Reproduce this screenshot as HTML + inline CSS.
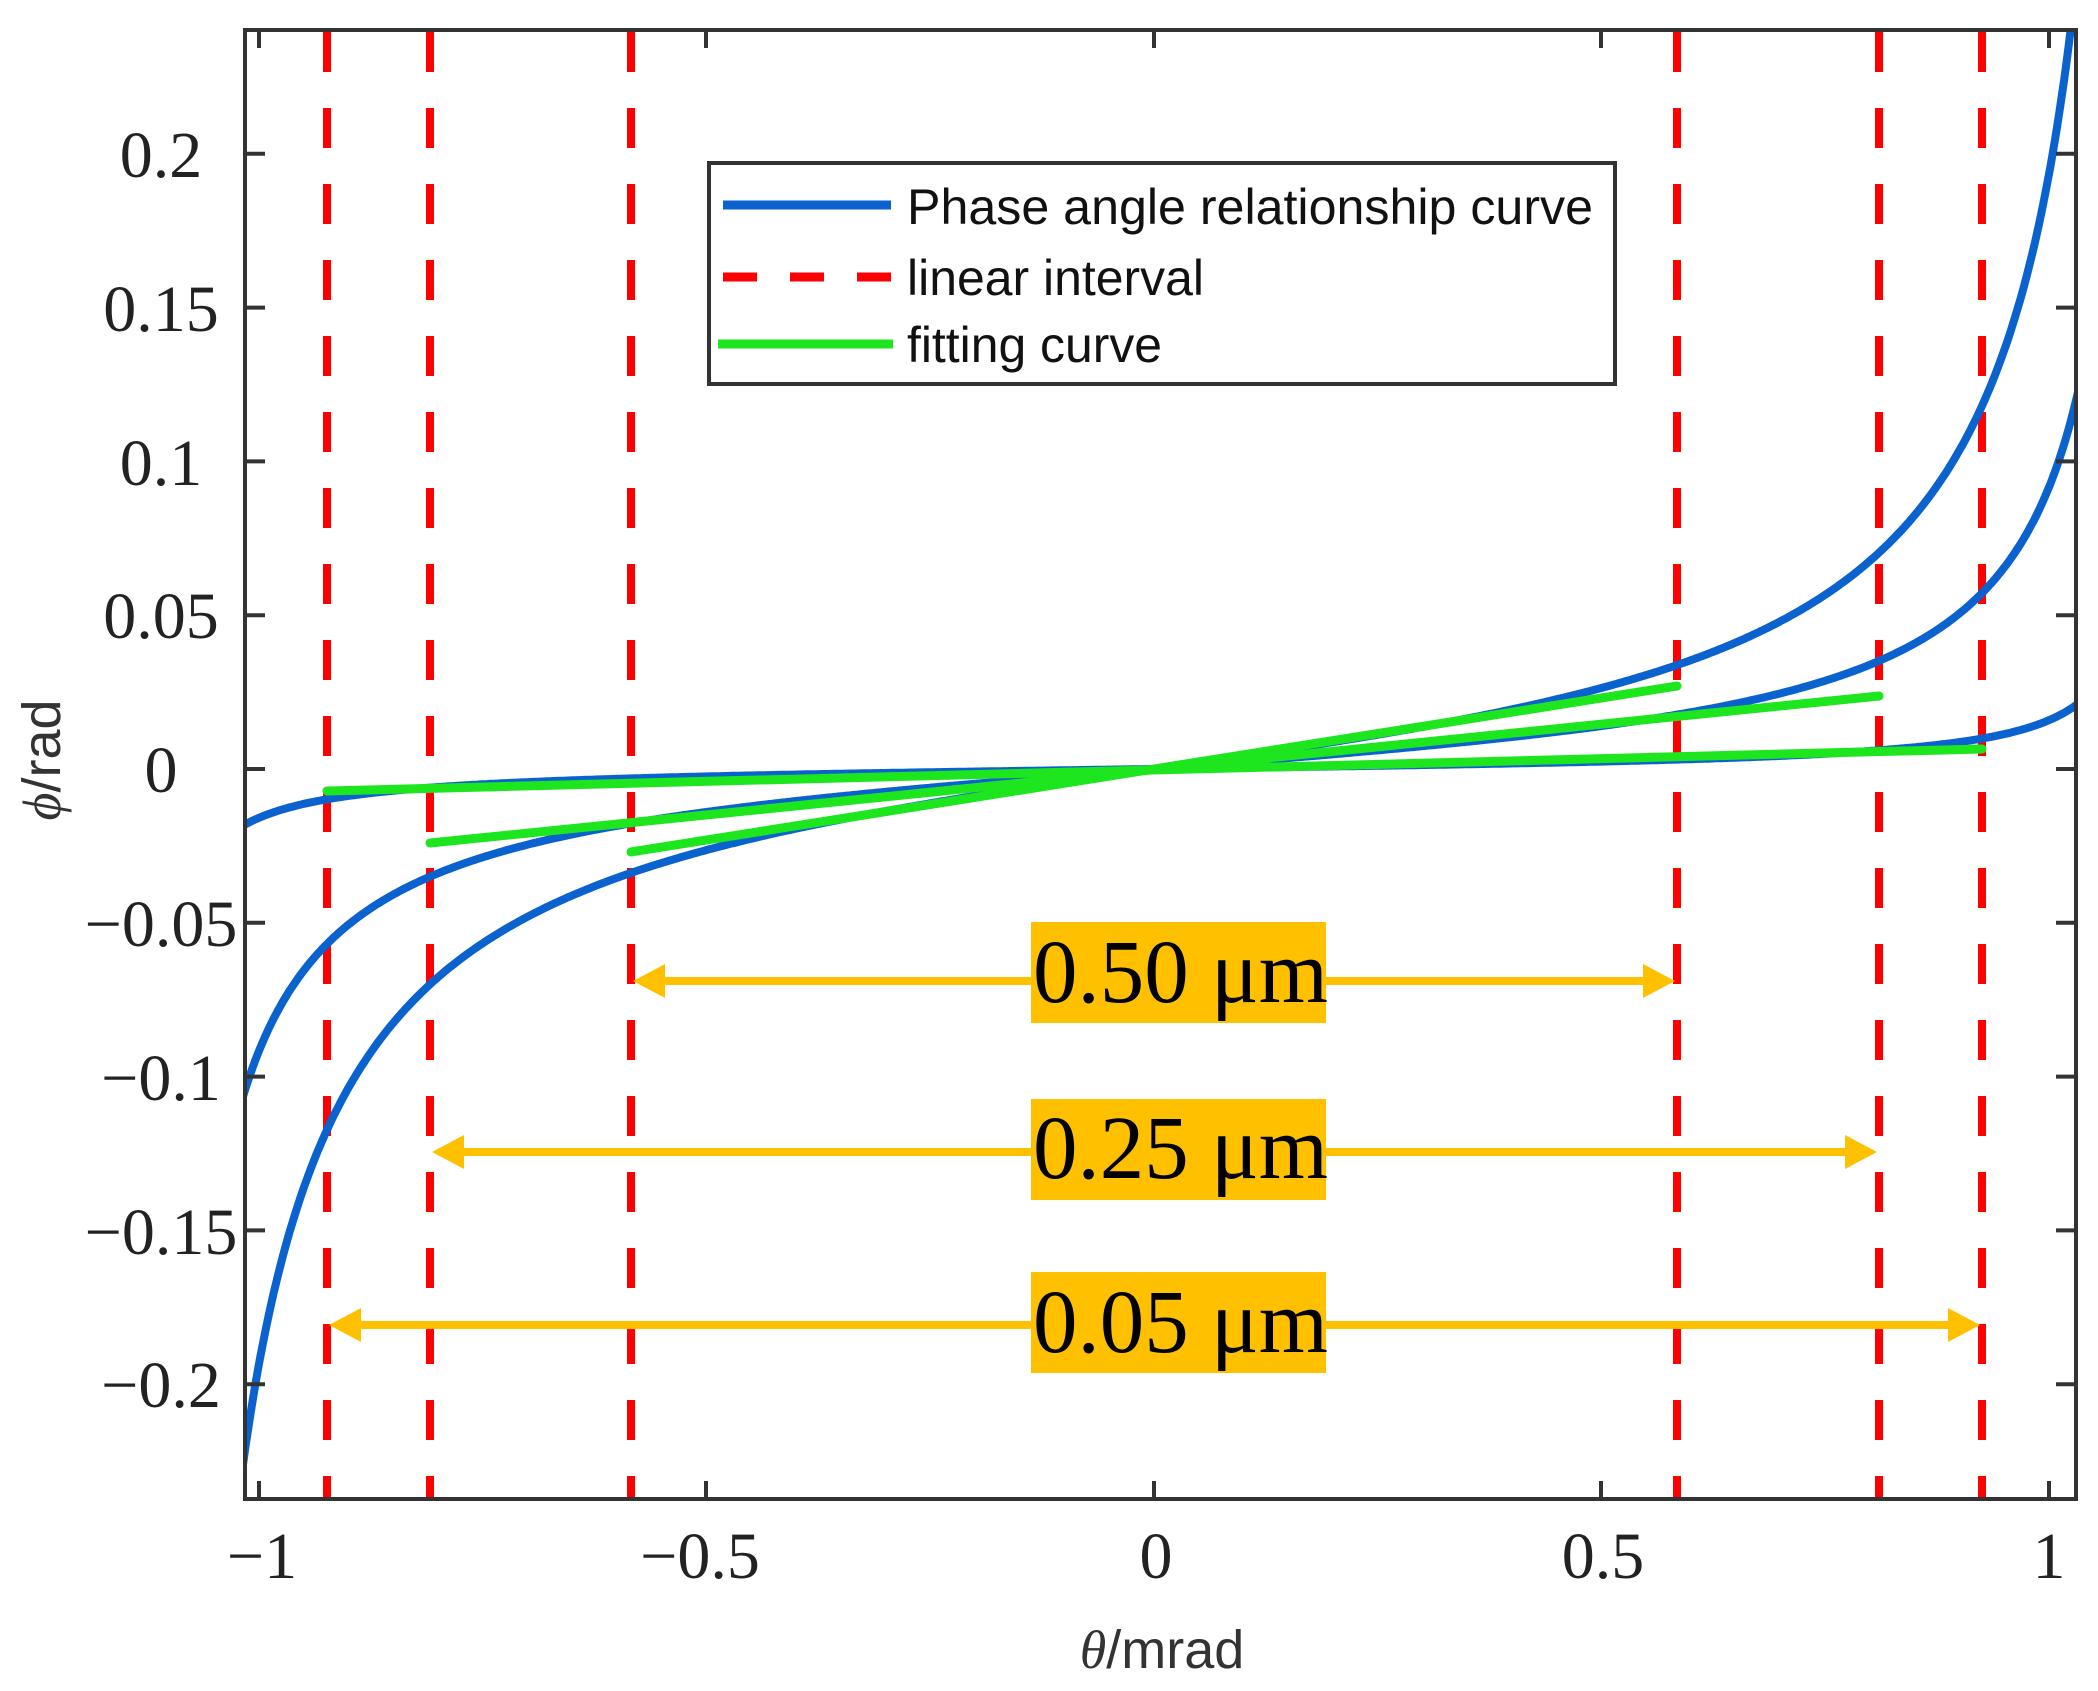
<!DOCTYPE html>
<html><head><meta charset="utf-8"><style>
html,body{margin:0;padding:0;background:#fff;}
svg{display:block;}
</style></head><body>
<svg id="s" width="2098" height="1691" viewBox="0 0 2098 1691" xmlns="http://www.w3.org/2000/svg">
<defs><clipPath id="c"><rect x="245" y="30" width="1831" height="1469"/></clipPath></defs>
<rect width="2098" height="1691" fill="#fff"/>
<g clip-path="url(#c)">
 <g stroke="#ff0000" stroke-width="8" stroke-dasharray="40,36">
  <line x1="327" y1="32" x2="327" y2="1499"/>
  <line x1="430" y1="32" x2="430" y2="1499"/>
  <line x1="631" y1="32" x2="631" y2="1499"/>
  <line x1="1677" y1="32" x2="1677" y2="1499"/>
  <line x1="1879" y1="32" x2="1879" y2="1499"/>
  <line x1="1982" y1="32" x2="1982" y2="1499"/>
 </g>
 <g id="blue" fill="none" stroke="#0a62cf" stroke-width="8"></g>
 <g stroke="#1ee61e" stroke-width="9" stroke-linecap="round">
  <line x1="631" y1="852" x2="1677" y2="686"/>
  <line x1="430" y1="843" x2="1879" y2="696"/>
  <line x1="327" y1="791" x2="1982" y2="749"/>
 </g>
</g>
<g stroke="#333" stroke-width="4" fill="none">
 <rect x="245" y="30" width="1831" height="1469"/>
 <line x1="259" y1="1499" x2="259" y2="1481"/><line x1="706" y1="1499" x2="706" y2="1481"/>
 <line x1="1154" y1="1499" x2="1154" y2="1481"/><line x1="1601" y1="1499" x2="1601" y2="1481"/>
 <line x1="2049" y1="1499" x2="2049" y2="1481"/>
 <line x1="259" y1="30" x2="259" y2="48"/><line x1="706" y1="30" x2="706" y2="48"/>
 <line x1="1154" y1="30" x2="1154" y2="48"/><line x1="1601" y1="30" x2="1601" y2="48"/>
 <line x1="2049" y1="30" x2="2049" y2="48"/>
</g>
<g id="yt" stroke="#333" stroke-width="4"></g>
<g font-family="Liberation Serif, serif" font-size="66" fill="#222" text-anchor="middle">
 <text x="161" y="177">0.2</text>
 <text x="161" y="331">0.15</text>
 <text x="161" y="485">0.1</text>
 <text x="161" y="638">0.05</text>
 <text x="161" y="792">0</text>
 <text x="161" y="946">−0.05</text>
 <text x="161" y="1100">−0.1</text>
 <text x="161" y="1254">−0.15</text>
 <text x="161" y="1407">−0.2</text>
 <text x="262" y="1578">−1</text>
 <text x="700" y="1578">−0.5</text>
 <text x="1156" y="1578">0</text>
 <text x="1603" y="1578">0.5</text>
 <text x="2049" y="1578">1</text>
</g>
<text x="1162" y="1668" font-family="Liberation Sans, sans-serif" font-size="54" fill="#333" text-anchor="middle"><tspan font-family="Liberation Serif, serif" font-style="italic">θ</tspan>/mrad</text>
<text transform="translate(60,760) rotate(-90)" font-family="Liberation Sans, sans-serif" font-size="54" fill="#333" text-anchor="middle"><tspan font-family="Liberation Serif, serif" font-style="italic">ϕ</tspan>/rad</text>
<g fill="#ffc000" stroke="#ffc000">
 <line x1="660" y1="981" x2="1648" y2="981" stroke-width="8"/>
 <polygon points="633,981 665,964 665,998" stroke="none"/>
 <polygon points="1675,981 1643,964 1643,998" stroke="none"/>
 <line x1="459" y1="1152" x2="1850" y2="1152" stroke-width="8"/>
 <polygon points="432,1152 464,1135 464,1169" stroke="none"/>
 <polygon points="1877,1152 1845,1135 1845,1169" stroke="none"/>
 <line x1="356" y1="1325" x2="1953" y2="1325" stroke-width="8"/>
 <polygon points="329,1325 361,1308 361,1342" stroke="none"/>
 <polygon points="1980,1325 1948,1308 1948,1342" stroke="none"/>
 <rect x="1031" y="922" width="295" height="101" stroke="none"/>
 <rect x="1031" y="1099" width="295" height="101" stroke="none"/>
 <rect x="1031" y="1272" width="295" height="101" stroke="none"/>
</g>
<g font-family="Liberation Serif, serif" font-size="90" fill="#000">
 <text x="1033" y="1002" textLength="295" lengthAdjust="spacingAndGlyphs">0.50 μm</text>
 <text x="1033" y="1178" textLength="295" lengthAdjust="spacingAndGlyphs">0.25 μm</text>
 <text x="1033" y="1352" textLength="295" lengthAdjust="spacingAndGlyphs">0.05 μm</text>
</g>
<rect x="709" y="163" width="906" height="221" fill="#fff" stroke="#333" stroke-width="4"/>
<line x1="723" y1="205" x2="891" y2="205" stroke="#0a62cf" stroke-width="9"/>
<line x1="723" y1="277" x2="891" y2="277" stroke="#ff0000" stroke-width="9" stroke-dasharray="34,33"/>
<line x1="718" y1="344" x2="893" y2="344" stroke="#1ee61e" stroke-width="9"/>
<g font-family="Liberation Sans, sans-serif" font-size="50" fill="#111">
 <text x="907" y="224" textLength="686" lengthAdjust="spacingAndGlyphs">Phase angle relationship curve</text>
 <text x="907" y="295" textLength="297" lengthAdjust="spacingAndGlyphs">linear interval</text>
 <text x="907" y="362" textLength="255" lengthAdjust="spacingAndGlyphs">fitting curve</text>
</g>
<script>
(function(){
 var X=function(t){return 1154+895*t;}, Y=function(p){return 769-3076*p;};
 var g=document.getElementById('blue'), ns='http://www.w3.org/2000/svg';
 [[0.037,-0.009],[0.01675,0],[0.0029,0]].forEach(function(c){
  var A=c[0],B=c[1];
  var d='';
  for(var i=0;i<=800;i++){var t=-1.03+2.07*i/800;var p=A*Math.tan(1.39*t)+B*t;
   var y=Y(p); if(y<-100)y=-100; if(y>1700)y=1700;
   d+=(i?'L':'M')+X(t).toFixed(1)+','+y.toFixed(1);}
  var e=document.createElementNS(ns,'path');e.setAttribute('d',d);g.appendChild(e);
 });
 var yt=document.getElementById('yt');
 for(var k=-4;k<=4;k++){var y=769-153.8*k;
  var l=document.createElementNS(ns,'line');l.setAttribute('x1',245);l.setAttribute('x2',265);l.setAttribute('y1',y);l.setAttribute('y2',y);yt.appendChild(l);
  var r=document.createElementNS(ns,'line');r.setAttribute('x1',2056);r.setAttribute('x2',2076);r.setAttribute('y1',y);r.setAttribute('y2',y);yt.appendChild(r);}
})();
</script>
</svg>
</body></html>
